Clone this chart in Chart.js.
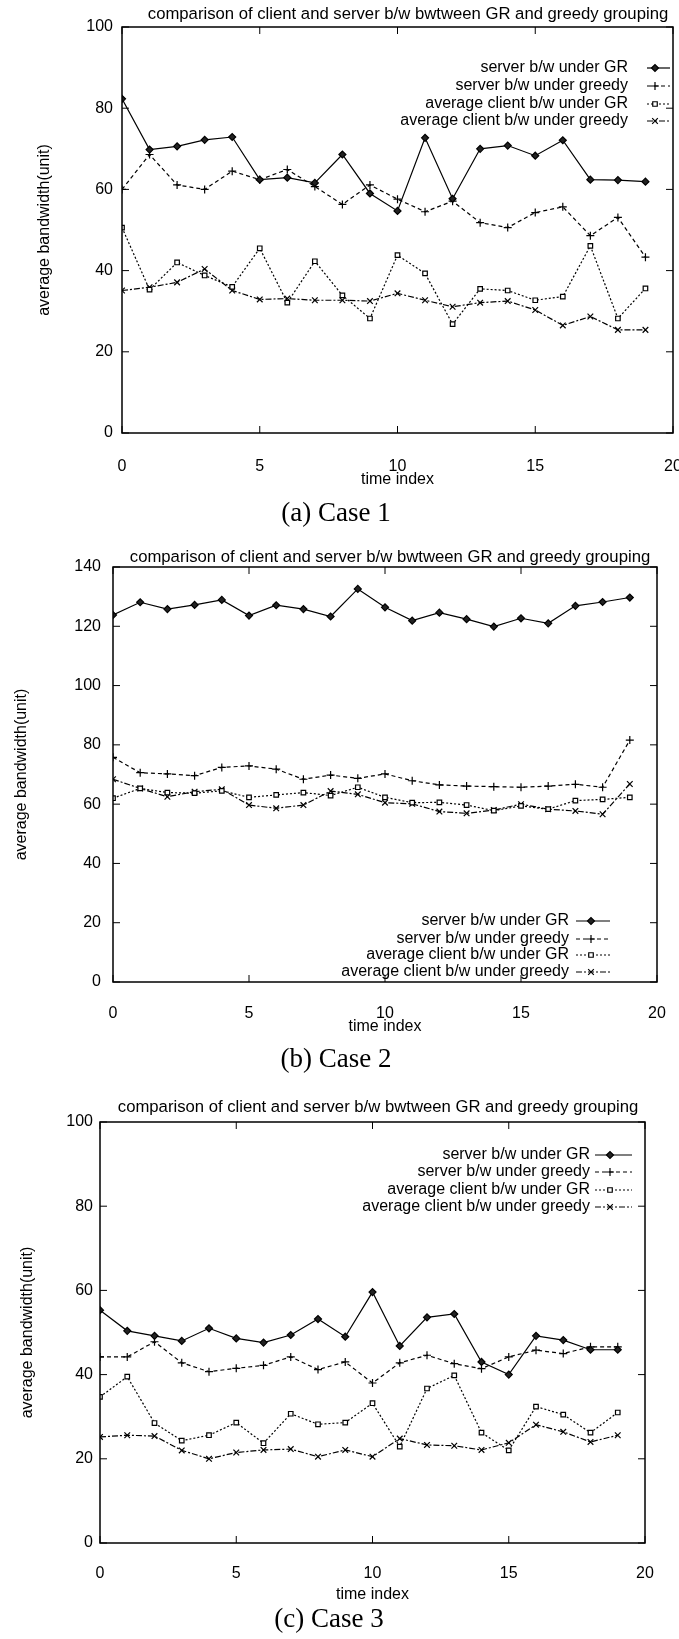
<!DOCTYPE html>
<html>
<head>
<meta charset="utf-8">
<script src="https://cdn.jsdelivr.net/npm/chart.js@4.4.1/dist/chart.umd.min.js"></script>
<style>
    body { margin: 0; background: #fff; width: 679px; height: 1639px; position: relative; overflow: hidden; }
    .panel { position: absolute; left: 0; width: 679px; }
    .caption {
        position: absolute;
        font-family: "Liberation Serif", "Times New Roman", serif;
        font-size: 27px;
        color: #000;
        white-space: nowrap;
        transform: translate(-50%, -50%);
    }
</style>
</head>
<body>
<div class="panel" style="top:0px;height:500px"><canvas id="case1"></canvas></div>
<div class="caption" style="left:336px;top:512px">(a) Case 1</div>

<div class="panel" style="top:530px;height:520px"><canvas id="case2"></canvas></div>
<div class="caption" style="left:336px;top:1058px">(b) Case 2</div>

<div class="panel" style="top:1080px;height:530px"><canvas id="case3"></canvas></div>
<div class="caption" style="left:329px;top:1618px">(c) Case 3</div>

<script>
// 時間索引與各序列數值
const timeIndex = [0, 1, 2, 3, 4, 5, 6, 7, 8, 9, 10, 11, 12, 13, 14, 15, 16, 17, 18, 19];
const xTicks = [0, 5, 10, 15, 20];
const seriesLabels = [
    'server b/w under GR',
    'server b/w under greedy',
    'average client b/w under GR',
    'average client b/w under greedy'
];
const chartTitle = 'comparison of client and server b/w bwtween GR and greedy grouping';

// Case 1
const case1ServerGR     = [82.3, 69.8, 70.6, 72.2, 72.9, 62.4, 62.9, 61.6, 68.6, 59.0, 54.7, 72.7, 57.7, 70.0, 70.8, 68.3, 72.1, 62.4, 62.3, 61.9];
const case1ServerGreedy = [60.0, 68.6, 61.1, 60.0, 64.5, 62.4, 64.9, 60.7, 56.3, 61.1, 57.6, 54.5, 57.1, 51.8, 50.6, 54.3, 55.7, 48.6, 53.1, 43.3];
const case1ClientGR     = [50.6, 35.3, 42.0, 38.8, 36.0, 45.5, 32.1, 42.3, 33.9, 28.2, 43.8, 39.3, 26.8, 35.5, 35.1, 32.7, 33.6, 46.1, 28.2, 35.6];
const case1ClientGreedy = [35.1, 35.9, 37.1, 40.4, 35.1, 32.9, 33.1, 32.7, 32.7, 32.5, 34.4, 32.7, 31.1, 32.1, 32.5, 30.3, 26.5, 28.7, 25.4, 25.4];

// Case 2
const case2ServerGR     = [123.8, 128.1, 125.8, 127.2, 128.9, 123.6, 127.1, 125.8, 123.3, 132.6, 126.4, 121.9, 124.6, 122.4, 119.9, 122.7, 121.0, 126.9, 128.2, 129.7];
const case2ServerGreedy = [75.8, 70.6, 70.2, 69.6, 72.4, 72.9, 71.8, 68.4, 69.8, 68.7, 70.2, 67.9, 66.5, 66.1, 65.9, 65.7, 66.1, 66.7, 65.7, 81.6];
const case2ClientGR     = [62.0, 65.3, 63.9, 63.7, 64.5, 62.3, 63.1, 63.9, 62.9, 65.7, 62.3, 60.5, 60.6, 59.7, 57.8, 59.4, 58.3, 61.2, 61.6, 62.3];
const case2ClientGreedy = [68.4, 65.3, 62.5, 64.2, 65.0, 59.7, 58.6, 59.7, 64.4, 63.3, 60.5, 60.1, 57.5, 56.9, 58.0, 60.0, 58.3, 57.7, 56.6, 66.8];

// Case 3
const case3ServerGR     = [55.3, 50.4, 49.2, 48.0, 51.0, 48.6, 47.6, 49.4, 53.2, 49.0, 59.6, 46.8, 53.6, 54.4, 43.0, 40.0, 49.2, 48.2, 45.9, 45.9];
const case3ServerGreedy = [44.2, 44.2, 47.8, 42.8, 40.7, 41.5, 42.2, 44.2, 41.2, 43.0, 38.0, 42.8, 44.6, 42.6, 41.4, 44.2, 45.8, 45.0, 46.6, 46.6];
const case3ClientGR     = [34.7, 39.5, 28.5, 24.3, 25.6, 28.6, 23.7, 30.7, 28.2, 28.6, 33.2, 22.9, 36.7, 39.8, 26.2, 22.0, 32.4, 30.5, 26.2, 31.0];
const case3ClientGreedy = [25.2, 25.6, 25.4, 22.0, 20.0, 21.5, 22.1, 22.3, 20.5, 22.1, 20.5, 24.8, 23.3, 23.1, 22.1, 23.8, 28.1, 26.4, 24.0, 25.6];

Chart.defaults.font.family = '"Liberation Sans", Arial, sans-serif';
Chart.defaults.font.size = 16;
Chart.defaults.color = '#000';

// 線型與點型
const lineStyles = [
    { borderDash: [],           pointStyle: 'rectRot',  pointRadius: 3.5, fill: '#222' },
    { borderDash: [4, 3],       pointStyle: 'cross',    pointRadius: 4,   fill: '#000' },
    { borderDash: [2, 2],       pointStyle: 'rect',     pointRadius: 3.2, fill: '#fff' },
    { borderDash: [6, 2, 2, 2], pointStyle: 'crossRot', pointRadius: 4,   fill: '#000' }
];

// 外框與向內刻度
const framePlugin = {
    id: 'frame',
    afterDatasetsDraw(chart) {
        const { ctx, chartArea: a, scales } = chart;
        ctx.save();
        ctx.strokeStyle = '#000';
        ctx.setLineDash([]);
        ctx.lineWidth = 1.5;
        ctx.strokeRect(a.left, a.top, a.right - a.left, a.bottom - a.top);
        ctx.lineWidth = 1;
        ctx.beginPath();
        scales.x.ticks.forEach(t => {
            const px = scales.x.getPixelForValue(t.value);
            ctx.moveTo(px, a.bottom); ctx.lineTo(px, a.bottom - 7);
            ctx.moveTo(px, a.top); ctx.lineTo(px, a.top + 7);
        });
        scales.y.ticks.forEach(t => {
            const py = scales.y.getPixelForValue(t.value);
            ctx.moveTo(a.left, py); ctx.lineTo(a.left + 7, py);
            ctx.moveTo(a.right, py); ctx.lineTo(a.right - 7, py);
        });
        ctx.stroke();
        ctx.restore();
    }
};

// 標題與 gnuplot 風格圖例：文字靠右，線段與點在右邊
const keyPlugin = {
    id: 'gnuKey',
    afterDraw(chart, args, opts) {
        const { ctx } = chart;
        ctx.save();
        ctx.fillStyle = '#000';
        ctx.textBaseline = 'middle';
        ctx.textAlign = 'center';
        ctx.font = '16.7px "Liberation Sans", Arial, sans-serif';
        ctx.fillText(chartTitle, opts.titleX, opts.titleY);

        ctx.font = '16px "Liberation Sans", Arial, sans-serif';
        ctx.textAlign = 'right';
        chart.data.datasets.forEach((ds, i) => {
            const y = opts.rows[i];
            ctx.fillStyle = '#000';
            ctx.fillText(ds.label, opts.textRight, y);
            ctx.strokeStyle = '#000';
            ctx.lineWidth = 1.2;
            ctx.setLineDash(ds.borderDash);
            ctx.beginPath();
            ctx.moveTo(opts.sampleLeft, y);
            ctx.lineTo(opts.sampleRight, y);
            ctx.stroke();
            ctx.setLineDash([]);
            ctx.fillStyle = ds.pointBackgroundColor;
            Chart.helpers.drawPoint(ctx, {
                pointStyle: ds.pointStyle,
                radius: ds.pointRadius,
                borderWidth: 1.2,
                rotation: 0
            }, opts.markX, y);
        });
        ctx.restore();
    }
};

function buildDatasets(values) {
    return values.map((vals, i) => ({
        label: seriesLabels[i],
        data: timeIndex.map((t, k) => ({ x: t, y: vals[k] })),
        borderColor: '#000',
        borderWidth: 1.2,
        borderDash: lineStyles[i].borderDash,
        pointStyle: lineStyles[i].pointStyle,
        pointRadius: lineStyles[i].pointRadius,
        pointBorderWidth: 1.2,
        pointBorderColor: '#000',
        pointBackgroundColor: lineStyles[i].fill,
        tension: 0,
        fill: false
    }));
}

function makeChart(id, values, g) {
    const canvasH = g.canvasH;
    new Chart(document.getElementById(id), {
        type: 'line',
        data: { datasets: buildDatasets(values) },
        options: {
            responsive: true,
            maintainAspectRatio: false,
            animation: false,
            events: [],
            layout: { padding: { top: g.top, right: 679 - g.right, bottom: 0, left: 0 } },
            plugins: {
                legend: { display: false },
                tooltip: { enabled: false },
                title: { display: false },
                gnuKey: g.key
            },
            scales: {
                x: {
                    type: 'linear',
                    min: 0,
                    max: 20,
                    grid: { display: false, drawTicks: false },
                    border: { display: false },
                    afterBuildTicks: scale => { scale.ticks = xTicks.map(v => ({ value: v })); },
                    ticks: { padding: g.xTickPad, maxRotation: 0 },
                    title: { display: true, text: 'time index', padding: { top: 0, bottom: g.xTitlePad } },
                    afterFit: scale => {
                        scale.height = canvasH - g.bottom;
                        scale.paddingLeft = 0;
                        scale.paddingRight = 0;
                    }
                },
                y: {
                    min: 0,
                    max: g.yMax,
                    grid: { display: false, drawTicks: false },
                    border: { display: false },
                    ticks: { stepSize: 20, padding: g.yTickPad },
                    title: { display: true, text: 'average bandwidth(unit)', padding: { top: g.yTitlePad, bottom: 0 } },
                    afterFit: scale => {
                        scale.width = g.left;
                        scale.paddingTop = 0;
                        scale.paddingBottom = 0;
                    }
                }
            }
        },
        plugins: [framePlugin, keyPlugin]
    });
}

makeChart('case1', [case1ServerGR, case1ServerGreedy, case1ClientGR, case1ClientGreedy], {
    canvasH: 500, top: 27, left: 122, right: 673, bottom: 433, yMax: 100,
    xTickPad: 24, yTickPad: 9, yTitlePad: 35, xTitlePad: 10.4,
    key: { titleX: 408, titleY: 14, textRight: 628, sampleLeft: 647, sampleRight: 670, markX: 655, rows: [68, 86, 104, 121] }
});

makeChart('case2', [case2ServerGR, case2ServerGreedy, case2ClientGR, case2ClientGreedy], {
    canvasH: 520, top: 37, left: 113, right: 657, bottom: 452, yMax: 140,
    xTickPad: 22, yTickPad: 12, yTitlePad: 12, xTitlePad: 13.4,
    key: { titleX: 390, titleY: 27, textRight: 569, sampleLeft: 576, sampleRight: 610, markX: 591, rows: [391, 409, 425, 442] }
});

makeChart('case3', [case3ServerGR, case3ServerGreedy, case3ClientGR, case3ClientGreedy], {
    canvasH: 530, top: 42, left: 100, right: 645, bottom: 463, yMax: 100,
    xTickPad: 21, yTickPad: 7, yTitlePad: 18, xTitlePad: 5.4,
    key: { titleX: 378, titleY: 27, textRight: 590, sampleLeft: 595, sampleRight: 632, markX: 610, rows: [75, 92, 110, 127] }
});
</script>
</body>
</html>
